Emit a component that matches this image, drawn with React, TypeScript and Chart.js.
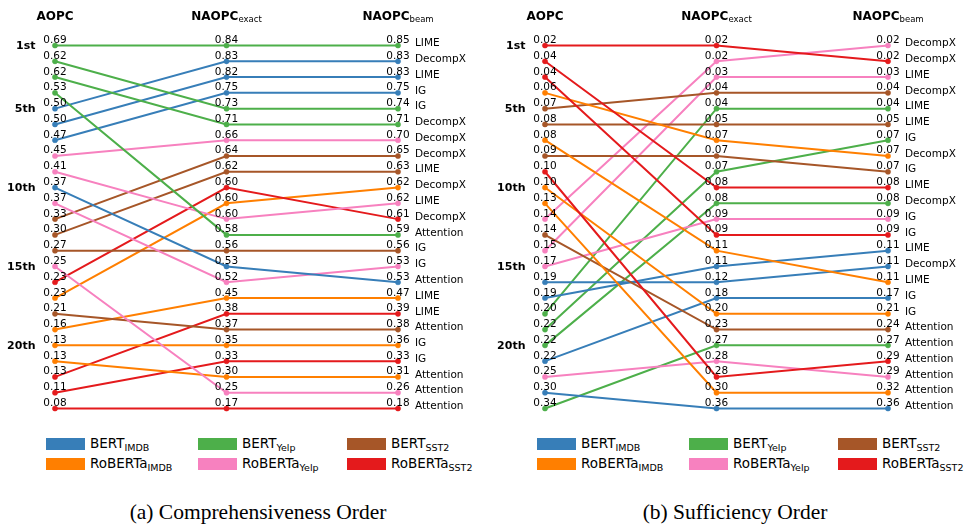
import React, { useEffect, useRef } from "react";
import { Chart, registerables } from "chart.js";
Chart.register(...registerables);

// ---- shared labels ----
const COLUMN_TITLES = ["AOPC", "NAOPC", "NAOPC"];
const COLUMN_SUBS = ["", "exact", "beam"];
const RANK_TICKS = [1, 5, 10, 15, 20];
const RANK_TICK_LABELS = ["1st", "5th", "10th", "15th", "20th"];

const MODEL_KEYS = ["BERT_IMDB", "BERT_Yelp", "BERT_SST2", "RoBERTa_IMDB", "RoBERTa_Yelp", "RoBERTa_SST2"];
const MODEL_BASE = ["BERT", "BERT", "BERT", "RoBERTa", "RoBERTa", "RoBERTa"];
const MODEL_SUB = ["IMDB", "Yelp", "SST2", "IMDB", "Yelp", "SST2"];
const MODEL_COLORS = ["#377eb8", "#4daf4a", "#a65628", "#ff7f00", "#f781bf", "#e41a1c"];

// ---- (a) Comprehensiveness ----
const compModel = ["BERT_Yelp", "BERT_Yelp", "BERT_Yelp", "BERT_Yelp", "BERT_IMDB", "BERT_IMDB", "BERT_IMDB", "RoBERTa_Yelp", "RoBERTa_Yelp", "BERT_IMDB", "RoBERTa_Yelp", "BERT_SST2", "BERT_SST2", "BERT_SST2", "RoBERTa_Yelp", "RoBERTa_SST2", "RoBERTa_IMDB", "BERT_SST2", "RoBERTa_IMDB", "RoBERTa_IMDB", "RoBERTa_IMDB", "RoBERTa_SST2", "RoBERTa_SST2", "RoBERTa_SST2"];
const compMethod = ["LIME", "IG", "DecompX", "Attention", "DecompX", "LIME", "IG", "DecompX", "LIME", "Attention", "IG", "DecompX", "LIME", "IG", "Attention", "DecompX", "DecompX", "Attention", "LIME", "IG", "Attention", "LIME", "IG", "Attention"];
const compAopc = [0.69, 0.62, 0.62, 0.53, 0.50, 0.50, 0.47, 0.45, 0.41, 0.37, 0.37, 0.33, 0.30, 0.27, 0.25, 0.23, 0.23, 0.21, 0.16, 0.13, 0.13, 0.13, 0.11, 0.08];
const compExact = [0.84, 0.73, 0.71, 0.58, 0.83, 0.82, 0.75, 0.66, 0.60, 0.53, 0.52, 0.64, 0.62, 0.56, 0.25, 0.60, 0.60, 0.37, 0.45, 0.35, 0.30, 0.38, 0.33, 0.17];
const compBeam = [0.85, 0.74, 0.71, 0.59, 0.83, 0.83, 0.75, 0.70, 0.62, 0.53, 0.53, 0.65, 0.63, 0.56, 0.26, 0.61, 0.62, 0.38, 0.47, 0.36, 0.31, 0.39, 0.33, 0.18];
const compRankAopc = [1, 2, 3, 4, 5, 6, 7, 8, 9, 10, 11, 12, 13, 14, 15, 16, 17, 18, 19, 20, 21, 22, 23, 24];
const compRankExact = [1, 5, 6, 13, 2, 3, 4, 7, 12, 15, 16, 8, 9, 14, 23, 10, 11, 19, 17, 20, 22, 18, 21, 24];
const compRankBeam = [1, 5, 6, 13, 2, 3, 4, 7, 11, 16, 15, 8, 9, 14, 23, 12, 10, 19, 17, 20, 22, 18, 21, 24];

// ---- (b) Sufficiency ----
const suffModel = ["RoBERTa_SST2", "RoBERTa_SST2", "RoBERTa_SST2", "RoBERTa_IMDB", "BERT_SST2", "BERT_SST2", "RoBERTa_IMDB", "BERT_SST2", "RoBERTa_SST2", "RoBERTa_IMDB", "RoBERTa_IMDB", "RoBERTa_Yelp", "BERT_SST2", "RoBERTa_Yelp", "RoBERTa_Yelp", "BERT_IMDB", "BERT_IMDB", "BERT_Yelp", "BERT_Yelp", "BERT_Yelp", "BERT_IMDB", "RoBERTa_Yelp", "BERT_IMDB", "BERT_Yelp"];
const suffMethod = ["DecompX", "LIME", "IG", "DecompX", "DecompX", "LIME", "LIME", "IG", "Attention", "IG", "Attention", "DecompX", "Attention", "LIME", "IG", "DecompX", "LIME", "LIME", "IG", "DecompX", "IG", "Attention", "Attention", "Attention"];
const suffAopc = [0.02, 0.04, 0.04, 0.06, 0.07, 0.08, 0.08, 0.09, 0.10, 0.10, 0.13, 0.14, 0.14, 0.15, 0.17, 0.19, 0.19, 0.20, 0.22, 0.22, 0.22, 0.25, 0.30, 0.34];
const suffExact = [0.02, 0.08, 0.09, 0.07, 0.04, 0.05, 0.11, 0.07, 0.28, 0.20, 0.30, 0.02, 0.23, 0.03, 0.09, 0.12, 0.11, 0.04, 0.07, 0.08, 0.18, 0.28, 0.36, 0.27];
const suffBeam = [0.02, 0.08, 0.09, 0.07, 0.04, 0.05, 0.11, 0.07, 0.29, 0.21, 0.32, 0.02, 0.24, 0.03, 0.09, 0.11, 0.11, 0.04, 0.07, 0.08, 0.17, 0.29, 0.36, 0.27];
const suffRankAopc = [1, 2, 3, 4, 5, 6, 7, 8, 9, 10, 11, 12, 13, 14, 15, 16, 17, 18, 19, 20, 21, 22, 23, 24];
const suffRankExact = [1, 10, 13, 7, 4, 6, 14, 8, 22, 18, 23, 2, 19, 3, 12, 16, 15, 5, 9, 11, 17, 21, 24, 20];
const suffRankBeam = [2, 10, 13, 8, 4, 6, 16, 9, 21, 18, 23, 1, 19, 3, 12, 15, 14, 5, 7, 11, 17, 22, 24, 20];

type Panel = {
  models: string[];
  methods: string[];
  values: number[][];
  ranks: number[][];
};

const PANEL_A: Panel = {
  models: compModel,
  methods: compMethod,
  values: [compAopc, compExact, compBeam],
  ranks: [compRankAopc, compRankExact, compRankBeam],
};
const PANEL_B: Panel = {
  models: suffModel,
  methods: suffMethod,
  values: [suffAopc, suffExact, suffBeam],
  ranks: [suffRankAopc, suffRankExact, suffRankBeam],
};

const FONT = '"DejaVu Sans"';
const CANVAS_W = 476;
const CANVAS_H = 425;

function colorOf(model: string) {
  return MODEL_COLORS[MODEL_KEYS.indexOf(model)];
}

function makeLabelPlugin(panel: Panel) {
  return {
    id: "slopeLabels",
    afterDatasetsDraw(chart: any) {
      const ctx = chart.ctx as CanvasRenderingContext2D;
      const xs = chart.scales.x;
      const ys = chart.scales.y;
      ctx.save();
      ctx.fillStyle = "#000";
      // column headers
      for (let c = 0; c < 3; c++) {
        const cx = xs.getPixelForValue(c);
        ctx.font = `bold 12px ${FONT}`;
        const mw = ctx.measureText(COLUMN_TITLES[c]).width;
        ctx.font = `8.5px ${FONT}`;
        const sw = COLUMN_SUBS[c] ? ctx.measureText(COLUMN_SUBS[c]).width : 0;
        const x0 = cx - (mw + sw) / 2;
        ctx.textAlign = "left";
        ctx.textBaseline = "middle";
        ctx.font = `bold 12px ${FONT}`;
        ctx.fillText(COLUMN_TITLES[c], x0, 16.5);
        if (sw) {
          ctx.font = `8.5px ${FONT}`;
          ctx.fillText(COLUMN_SUBS[c], x0 + mw, 20);
        }
      }
      // rank tick labels
      ctx.font = `bold 11px ${FONT}`;
      ctx.textAlign = "right";
      ctx.textBaseline = "middle";
      RANK_TICKS.forEach((r, i) => {
        ctx.fillText(RANK_TICK_LABELS[i], 35.5, ys.getPixelForValue(r) + 1);
      });
      // value labels
      ctx.font = `10.5px ${FONT}`;
      ctx.textAlign = "center";
      ctx.textBaseline = "alphabetic";
      for (let i = 0; i < panel.models.length; i++) {
        for (let c = 0; c < 3; c++) {
          const x = xs.getPixelForValue(c);
          const y = ys.getPixelForValue(panel.ranks[c][i]);
          ctx.fillText(panel.values[c][i].toFixed(2), x, y - 2.5);
        }
      }
      // method labels on the right column
      ctx.textAlign = "left";
      ctx.textBaseline = "middle";
      for (let i = 0; i < panel.models.length; i++) {
        const x = xs.getPixelForValue(2);
        const y = ys.getPixelForValue(panel.ranks[2][i]);
        ctx.fillText(panel.methods[i], x + 17, y - 2);
      }
      ctx.restore();
    },
  };
}

function SlopePanel({ panel, left }: { panel: Panel; left: number }) {
  const ref = useRef<HTMLCanvasElement | null>(null);
  useEffect(() => {
    if (!ref.current) return;
    const datasets = panel.models.map((m, i) => ({
      label: `${m} ${panel.methods[i]}`,
      data: [0, 1, 2].map((c) => ({ x: c, y: panel.ranks[c][i] })),
      borderColor: colorOf(m),
      backgroundColor: colorOf(m),
      pointBackgroundColor: colorOf(m),
      pointBorderColor: colorOf(m),
      pointRadius: 2.6,
      pointBorderWidth: 0.5,
      borderWidth: 2,
      tension: 0,
      clip: false as any,
    }));
    const chart = new Chart(ref.current, {
      type: "line",
      data: { datasets },
      options: {
        animation: false,
        responsive: false,
        devicePixelRatio: 1,
        layout: { padding: { left: 55, right: CANVAS_W - 398, top: 45.5, bottom: CANVAS_H - 408.5 } },
        scales: {
          x: { type: "linear", min: 0, max: 2, display: false },
          y: { type: "linear", min: 1, max: 24, reverse: true, display: false },
        },
        plugins: { legend: { display: false }, tooltip: { enabled: false }, title: { display: false } },
        events: [],
      },
      plugins: [makeLabelPlugin(panel)],
    });
    return () => chart.destroy();
  }, [panel]);
  return (
    <canvas
      ref={ref}
      width={CANVAS_W}
      height={CANVAS_H}
      style={{ position: "absolute", left, top: 0, width: CANVAS_W, height: CANVAS_H }}
    />
  );
}

const LEGEND_COL_X = [46, 198, 347];
const LEGEND_ROW_Y = [438, 458];

function Legend({ offset }: { offset: number }) {
  const order = [0, 1, 2, 3, 4, 5];
  return (
    <>
      {order.map((k) => {
        const col = k % 3;
        const row = Math.floor(k / 3);
        return (
          <div
            key={k}
            style={{
              position: "absolute",
              left: offset + LEGEND_COL_X[col],
              top: LEGEND_ROW_Y[row] - 3,
              height: 18,
              display: "flex",
              alignItems: "center",
              whiteSpace: "nowrap",
              fontFamily: FONT,
              color: "#000",
            }}
          >
            <div style={{ width: 39, height: 12, background: MODEL_COLORS[k] }} />
            <span style={{ marginLeft: 5, fontSize: 13.5, lineHeight: "18px" }}>
              {MODEL_BASE[k]}
              <span style={{ fontSize: 9.5, position: "relative", top: 3 }}>{MODEL_SUB[k]}</span>
            </span>
          </div>
        );
      })}
    </>
  );
}

const CAPTIONS = ["(a) Comprehensiveness Order", "(b) Sufficiency Order"];
const CAPTION_CENTERS = [258, 735];

export default function App() {
  return (
    <div
      style={{
        position: "absolute",
        left: 0,
        top: 0,
        width: 966,
        height: 525,
        background: "#fff",
        overflow: "hidden",
      }}
    >
      <SlopePanel panel={PANEL_A} left={0} />
      <SlopePanel panel={PANEL_B} left={490} />
      <Legend offset={0} />
      <Legend offset={491} />
      {CAPTIONS.map((c, i) => (
        <div
          key={i}
          style={{
            position: "absolute",
            left: CAPTION_CENTERS[i] - 200,
            width: 400,
            top: 501,
            textAlign: "center",
            fontFamily: '"Liberation Serif", "Times New Roman", serif',
            fontSize: 21.5,
            lineHeight: "22px",
            color: "#000",
            whiteSpace: "nowrap",
          }}
        >
          {c}
        </div>
      ))}
    </div>
  );
}
